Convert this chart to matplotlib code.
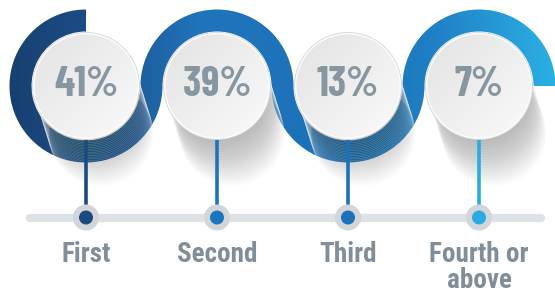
import numpy as np
import matplotlib
matplotlib.use("Agg")
import matplotlib.pyplot as plt
from matplotlib.patches import Wedge, Circle
from matplotlib.colors import to_rgb
from matplotlib import font_manager as fm

# ---- data ----
categories = ["First", "Second", "Third", "Fourth or\nabove"]
values = [41, 39, 13, 7]
dot_colors = ["#1b4a80", "#1a75bd", "#1b72b8", "#2aace2"]

W, H = 555, 294
names = {f.name for f in fm.fontManager.ttflist}
def pick(cands):
    for c in cands:
        if c in names:
            return c
    return "DejaVu Sans"
FAM_LAB = pick(["Roboto Condensed", "Barlow Condensed", "Archivo Narrow"])
FAM_PCT = pick(["Barlow Condensed", "Roboto Condensed", "Archivo Narrow"])

fig = plt.figure(figsize=(W / 100, H / 100), dpi=100)
ax = fig.add_axes([0, 0, 1, 1])
ax.set_xlim(0, W)
ax.set_ylim(0, H)
ax.axis("off")

def Y(yp):
    return H - yp

n = len(values)
xs = [86 + 131 * i for i in range(n)]
cy = Y(86)
r_in, r_out = 54.5, 76.5
r_circle = 52

# band gradient colours along x
grad_stops = [(0, "#173f6e"), (86, "#1c4c86"), (200, "#2074bb"), (350, "#1b72b8"),
              (430, "#1f7fc4"), (555, "#2bb0e4")]
xg = np.arange(W)
cols = np.zeros((1, W, 3))
for c in range(3):
    cols[0, :, c] = np.interp(xg, [s[0] for s in grad_stops], [to_rgb(s[1])[c] for s in grad_stops])

# serpentine wedges
arcs = [(90, 360)] + [((0, 180) if i % 2 == 1 else (180, 360)) for i in range(1, n)]
for cx, (t1, t2) in zip(xs, arcs):
    wdg = Wedge((cx, cy), r_out, t1, t2, width=r_out - r_in, facecolor="none", edgecolor="none")
    ax.add_patch(wdg)
    im = ax.imshow(cols, extent=(0, W, 0, H), origin="lower", aspect="auto", zorder=1)
    im.set_clip_path(wdg)

# long striped shadows
N = 30
for cx in xs:
    for k in range(N, 0, -1):
        ax.add_patch(Circle((cx + k * 0.5, cy - k * 1.6), r_circle,
                            facecolor=(0.3, 0.3, 0.3, 0.014),
                            edgecolor=(1, 1, 1, 0.22), lw=0.5, zorder=2))

# timeline
ty = Y(217.5)
ax.plot([30, 541], [ty, ty], color="#dde2e7", lw=6, solid_capstyle="round", zorder=3)

for cx, c in zip(xs, dot_colors):
    ax.plot([cx, cx], [cy - r_circle + 2, ty], color=c, lw=2.6, zorder=4)
    ax.add_patch(Circle((cx, ty), 13, facecolor="#d2d5d9", edgecolor="none", zorder=5))
    ax.add_patch(Circle((cx, ty), 7, facecolor=c, edgecolor="none", zorder=6))

# white circles with gradient
gy, gx = np.mgrid[0:100, 0:100] / 99.0
g = (gx + (1 - gy)) / 2.0
shade = 0.98 - 0.09 * (1 - g)
img = np.dstack([shade, shade, shade])
for cx, v in zip(xs, values):
    ax.add_patch(Circle((cx, cy), r_circle + 1.5, facecolor="#fbfbfb", edgecolor="#d5d5d5",
                        lw=0.6, zorder=7))
    cp = Circle((cx, cy), r_circle - 0.5, facecolor="none", edgecolor="none", zorder=8)
    ax.add_patch(cp)
    im = ax.imshow(img, extent=(cx - r_circle, cx + r_circle, cy - r_circle, cy + r_circle),
                   origin="lower", zorder=8)
    im.set_clip_path(cp)
    ax.text(cx, cy + 1, f"{v}%", ha="center", va="center", fontsize=30,
            fontweight="bold", family=FAM_PCT, color="#8797a2", zorder=9)

for cx, lab in zip(xs, categories):
    ax.text(cx, Y(241.5), lab, ha="center", va="top", fontsize=19.5, fontweight="bold",
            family=FAM_LAB, color="#808e99", linespacing=0.95, zorder=9)

ax.set_xlim(0, W)
ax.set_ylim(0, H)
fig.savefig("out.png", dpi=100, facecolor="white")
